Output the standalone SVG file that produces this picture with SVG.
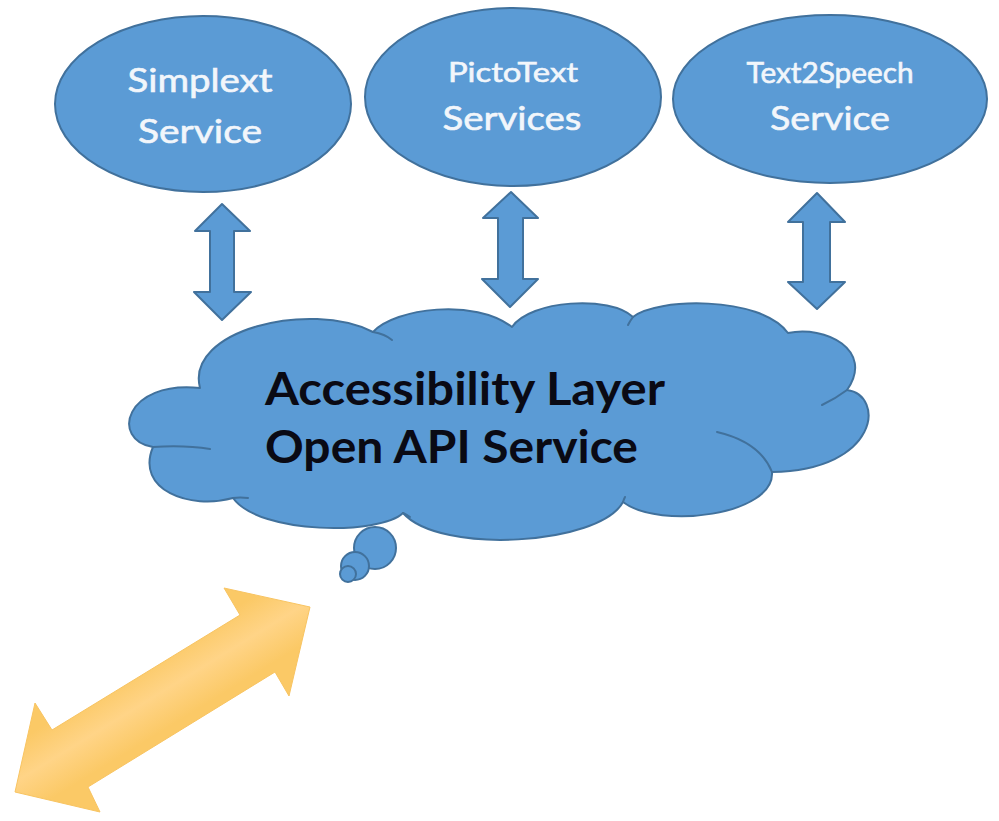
<svg xmlns="http://www.w3.org/2000/svg" width="999" height="821" viewBox="0 0 999 821">
<defs>
<style>
.blue{fill:#5B9BD5;stroke:#41719C;stroke-width:2;stroke-linejoin:round}
.inner{fill:none;stroke:#41719C;stroke-width:2;stroke-linecap:round}
.wt{font-family:Lato,"Open Sans","Liberation Sans",sans-serif;fill:#F2F6FB;stroke:#F2F6FB;stroke-width:0.6;text-anchor:middle}
.bt{font-family:Lato,"Open Sans","Liberation Sans",sans-serif;font-weight:bold;fill:#0A0A14}
</style>
<linearGradient id="gold" gradientUnits="userSpaceOnUse" x1="150" y1="660" x2="185" y2="717">
<stop offset="0" stop-color="#FBC966"/>
<stop offset="0.5" stop-color="#FFD487"/>
<stop offset="1" stop-color="#FBC966"/>
</linearGradient>
</defs>
<rect width="999" height="821" fill="#FFFFFF"/>

<g id="simplext">
<ellipse class="blue" cx="203" cy="104" rx="148" ry="88"/>
<text class="wt" x="200" y="92" font-size="33" textLength="145" lengthAdjust="spacingAndGlyphs">Simplext</text>
<text class="wt" x="200" y="143" font-size="33" textLength="124" lengthAdjust="spacingAndGlyphs">Service</text>
</g>

<g id="pictotext">
<ellipse class="blue" cx="513" cy="97" rx="148" ry="89"/>
<text class="wt" x="513" y="82" font-size="27" textLength="130" lengthAdjust="spacingAndGlyphs">PictoText</text>
<text class="wt" x="512" y="130" font-size="33" textLength="139" lengthAdjust="spacingAndGlyphs">Services</text>
</g>

<g id="text2speech">
<ellipse class="blue" cx="830" cy="99" rx="157" ry="84"/>
<text class="wt" x="830" y="83" font-size="28" textLength="167" lengthAdjust="spacingAndGlyphs">Text2Speech</text>
<text class="wt" x="830" y="130" font-size="32" textLength="120" lengthAdjust="spacingAndGlyphs">Service</text>
</g>

<g id="cloud">
<path class="blue" d="M153,447 C110,440 125,380 200,388 C185,330 310,300 373,332 C395,308 475,298 512,327 C530,300 610,295 633,317 C655,298 760,295 788,333 C825,325 875,350 847,390 C885,395 880,470 772,472 C775,515 660,530 623,502 C600,545 440,555 403,513 C380,535 260,535 233,498 C190,510 135,490 153,447 Z"/>
<path class="inner" d="M373,332 Q385,334 392,340"/>
<path class="inner" d="M633,317 Q630,321 628,325"/>
<path class="inner" d="M847,390 Q835,399 822,405"/>
<path class="inner" d="M717,432 Q760,442 772,472"/>
<path class="inner" d="M623,502 Q624,499 625,497"/>
<path class="inner" d="M403,513 Q407,515 410,517"/>
<path class="inner" d="M233,498 Q240,497 248,498"/>
<path class="inner" d="M153,447 Q185,445 210,449"/>
<circle class="blue" cx="375" cy="548" r="21"/>
<circle class="blue" cx="355" cy="566" r="14"/>
<circle class="blue" cx="348" cy="574" r="8"/>
<text class="bt" x="265" y="405" font-size="46" textLength="400" lengthAdjust="spacingAndGlyphs">Accessibility Layer</text>
<text class="bt" x="265" y="463" font-size="46" textLength="373" lengthAdjust="spacingAndGlyphs">Open API Service</text>
</g>

<g id="connectors">
<polygon class="blue" points="222,204 250,231 234,231 234,292 251,292 222,320 194,292 210,292 210,231 195,231"/>
<polygon class="blue" points="511,192 538,218 523,218 523,279 538,279 510,307 482,279 498,279 498,218 483,218"/>
<polygon class="blue" points="817,193 845,222 830,222 830,282 845,282 817,309 788,282 803,282 803,222 788,222"/>
<polygon fill="url(#gold)" stroke="#F8C462" stroke-width="1" stroke-linejoin="round" points="310,607 224,588 240,615 52,730 35,703 15,792 100,812 88,787 275,672 289,696"/>
</g>
</svg>
